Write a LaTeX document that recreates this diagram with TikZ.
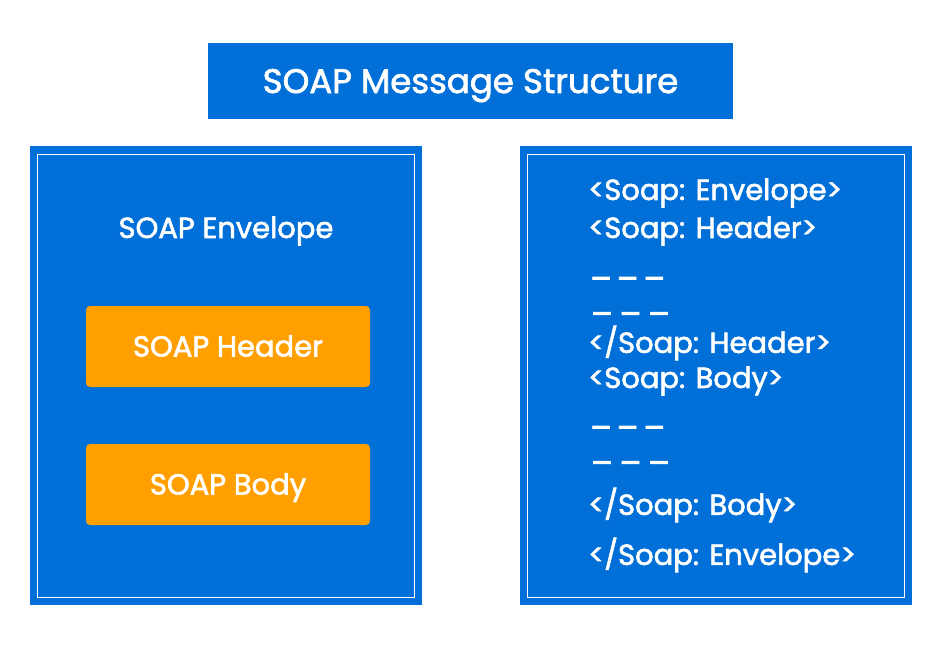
\documentclass[tikz,border=0pt]{standalone}
\usepackage{fontspec}
\setmainfont{Poppins}[FakeBold=2]
\usepackage{tikz}
\usetikzlibrary{positioning, calc}
\definecolor{soapblue}{HTML}{0070D8}
\definecolor{soaporange}{HTML}{FFA000}

\begin{document}
\begin{tikzpicture}[
    x=1pt, y=-1pt,
    every node/.style={text=white, inner sep=0pt},
    titlebox/.style={rectangle, fill=soapblue, minimum width=525pt, minimum height=76pt, text height=24pt, text depth=0pt, font=\fontsize{34}{38}\selectfont},
    panel/.style={rectangle, fill=soapblue, minimum width=392pt, minimum height=459pt},
    frame/.style={draw=white, line width=1pt},
    partbox/.style={rectangle, rounded corners=4pt, fill=soaporange, minimum width=284pt, minimum height=81pt, text height=20pt, text depth=0pt, font=\fontsize{29}{33}\selectfont},
    lbl/.style={font=\fontsize{29}{33}\selectfont},
    code/.style={anchor=west, font=\fontsize{29}{33}\selectfont},
    dashline/.style={anchor=base west, font=\fontsize{32}{36}\selectfont}
]
\useasboundingbox[fill=white] (0,0) rectangle (942,648);

% Titel
\node[titlebox] (title) at (470.5,81) {SOAP Message Structure};

% Linkes Feld: Umschlag
\node[panel] (env) at (226,375.5) {};
\draw[frame] ([shift={(8,9)}]env.north west) rectangle ([shift={(-8,-8)}]env.south east);
\node[lbl] (envlbl) at (226,231) {SOAP Envelope};
\node[partbox] (header) at (228,346.5) {SOAP Header};
\node[partbox] (body) at (228,484.5) {SOAP Body};

% Rechtes Feld: XML-Code
\node[panel] (xml) at (716,375.5) {};
\draw[frame] ([shift={(8,9)}]xml.north west) rectangle ([shift={(-8,-8)}]xml.south east);
\node[code] (l1) at (588,193) {<Soap: Envelope>};
\node[code] (l2) at (588,231) {<Soap: Header>};
\node[dashline] (d1) at (590,290) {–\hspace{5pt}–\hspace{5pt}–};
\node[dashline] (d2) at (590,311) {\_\hspace{5pt}\_\hspace{5pt}\_};
\node[code] (l3) at (588,343) {</Soap: Header>};
\node[code] (l4) at (588,381) {<Soap: Body>};
\node[dashline] (d3) at (590,439) {–\hspace{5pt}–\hspace{5pt}–};
\node[dashline] (d4) at (590,460) {\_\hspace{5pt}\_\hspace{5pt}\_};
\node[code] (l5) at (588,505) {</Soap: Body>};
\node[code] (l6) at (588,555) {</Soap: Envelope>};

\end{tikzpicture}
\end{document}
